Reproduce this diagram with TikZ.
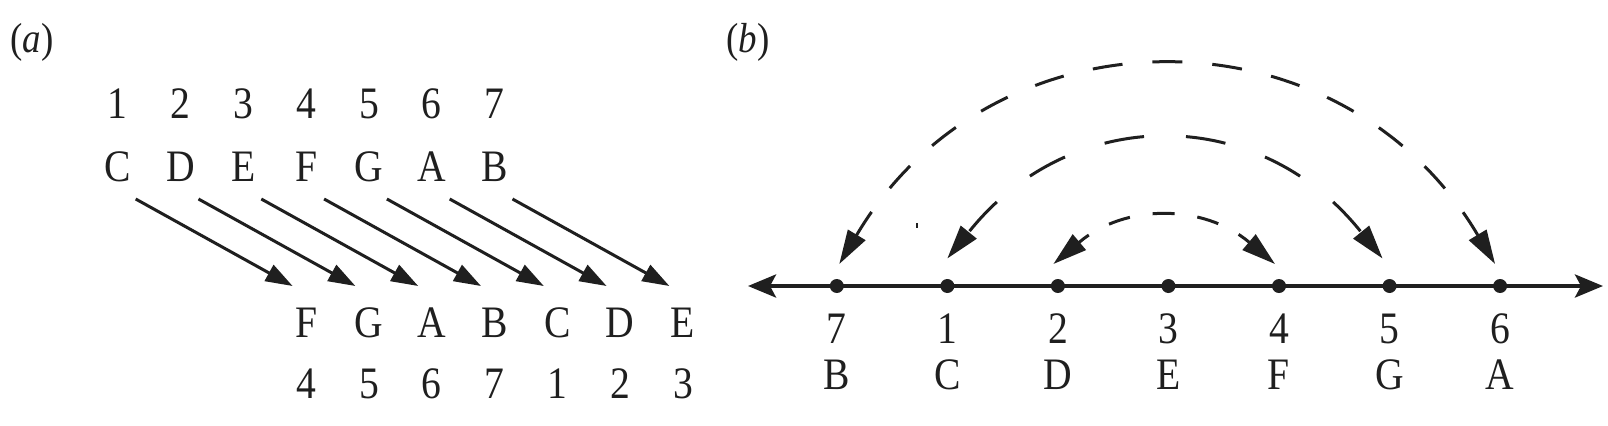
\documentclass[tikz,border=0pt]{standalone}
\usepackage{fontspec}
\setmainfont{Liberation Serif}[FakeStretch=0.88]
\usetikzlibrary{arrows.meta,calc}
\begin{document}
\begin{tikzpicture}[x=0.5pt,y=-0.5pt,
  lab/.style={font=\fontsize{22.5}{26}\selectfont, inner sep=0pt, anchor=base},
  panel/.style={font=\fontsize{21}{24}\selectfont, inner sep=0pt, anchor=base west},
  arr/.style={line width=1.5pt, -{Triangle[length=13.5pt,width=9pt]}},
  axisline/.style={line width=2pt, {Stealth[length=14pt,width=11.5pt,inset=3pt]}-{Stealth[length=14pt,width=11.5pt,inset=3pt]}},
  dot/.style={circle, fill=black!88, inner sep=0pt, minimum size=7pt},
  dasharc/.style={line width=1.5pt, {Triangle[length=17pt,width=10pt]}-{Triangle[length=17pt,width=10pt]}},
  every path/.style={color=black!88}]
\useasboundingbox (0,0) rectangle (1608,425);
% panel labels
\node[panel] (pa) at (10,52) {(\textit{a})};
\node[panel] (pb) at (726,52) {(\textit{b})};
% ---- (a)
\foreach \n [count=\i] in {1,2,3,4,5,6,7}
  \node[lab] (tn\i) at ({117.7+62.8*(\i-1)},118) {\n};
\foreach \l [count=\i] in {C,D,E,F,G,A,B}
  \node[lab] (tl\i) at ({117.7+62.8*(\i-1)},181) {\l};
\foreach \l [count=\i from 4] in {F,G,A,B,C,D,E}
  \node[lab] (bl\i) at ({117.7+62.8*(\i-1)},337) {\l};
\foreach \n [count=\i from 4] in {4,5,6,7,1,2,3}
  \node[lab] (bn\i) at ({117.7+62.8*(\i-1)},398) {\n};
\foreach \i [evaluate=\i as \j using int(\i+3)] in {1,...,7}
  \draw[arr] ($(tl\i.base)+(18,18)$) -- ($(bl\j.base)+(-13.5,-51)$);
% ---- (b)
\coordinate (axL) at (748,286);
\coordinate (axR) at (1603,286);
\draw[axisline] (axL) -- (axR);
\foreach \n/\l [count=\k from 0] in {7/B,1/C,2/D,3/E,4/F,5/G,6/A} {
  \node[dot] (d\n) at ({836.8+110.55*\k},286) {};
  \node[lab] (n\n) at ({836.8+110.55*\k},343) {\n};
  \node[lab] (l\n) at ({836.8+110.55*\k},389) {\l};
}
\draw[dasharc, dash pattern=on 15pt off 15pt, dash phase=1pt]
  ($(d7)+(2.5,-22)$) -- ++(18.5,-30.9)
  .. controls +(137.4,-228.6) and +(-137.4,-228.6) .. ($(d6)+(-23.5,-52.9)$)
  -- ($(d6)+(-5,-22)$);
\draw[dasharc, dash pattern=on 20pt off 21pt, dash phase=40pt]
  ($(d1)+(0,-27.5)$) -- ++(22.7,-28)
  .. controls +(102.3,-126.4) and +(-102.3,-126.4) .. ($(d5)+(-29.7,-55.5)$)
  -- ($(d5)+(-7,-27.5)$);
\draw[dasharc, dash pattern=on 11pt off 11.5pt, dash phase=4.75pt]
  ($(d2)+(-4.5,-22)$) -- ++(26,-21.9)
  .. controls +(45.7,-38.4) and +(-45.7,-38.4) .. ($(d4)+(-30,-43.9)$)
  -- ($(d4)+(-4,-22)$);
\fill (916,223) rectangle (918,228);
\end{tikzpicture}
\end{document}
